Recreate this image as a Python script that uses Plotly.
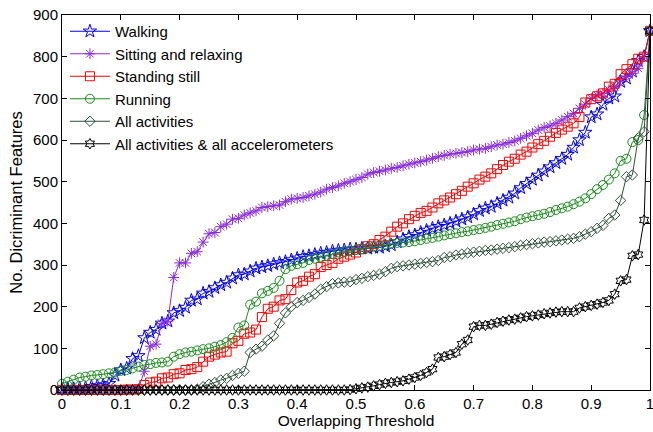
import plotly.graph_objects as go

x = [round(i * 0.01, 2) for i in range(101)]

walking = [2, 2, 3, 4, 5, 8, 10, 12, 15, 35,
           48, 52, 75, 82, 125, 138, 145, 160, 165, 185,
           190, 198, 215, 218, 232, 236, 245, 252, 258, 268,
           276, 278, 285, 292, 295, 298, 302, 305, 308, 312,
           316, 320, 322, 325, 328, 330, 333, 335, 336, 338,
           338, 340, 340, 342, 342, 345, 348, 355, 362, 368,
           372, 378, 383, 388, 392, 396, 400, 405, 410, 415,
           422, 430, 436, 440, 448, 455, 462, 472, 485, 495,
           505, 515, 525, 535, 545, 555, 565, 582, 600, 618,
           655, 662, 685, 700, 705, 740, 748, 765, 790, 800,
           862]

sitting = [0, 0, 0, 0, 0, 0, 0, 0, 0, 0,
           0, 1, 1, 3, 45, 105, 110, 160, 165, 270,
           305, 305, 328, 332, 355, 375, 378, 392, 398, 410,
           412, 420, 425, 430, 438, 440, 442, 444, 452, 458,
           460, 462, 466, 470, 475, 482, 486, 490, 496, 500,
           505, 510, 518, 522, 525, 528, 532, 534, 538, 542,
           545, 548, 552, 556, 560, 563, 566, 568, 570, 572,
           576, 578, 580, 584, 588, 590, 594, 598, 604, 610,
           616, 624, 630, 634, 640, 648, 656, 664, 676, 686,
           700, 708, 712, 720, 728, 742, 752, 760, 772, 800,
           862]

standing = [0, 0, 0, 0, 0, 0, 0, 0, 0, 0,
            0, 1, 1, 2, 12, 18, 20, 28, 30, 38,
            40, 48, 50, 55, 68, 80, 85, 90, 92, 112,
            118, 135, 138, 145, 175, 195, 200, 215, 218, 240,
            258, 262, 272, 278, 295, 300, 305, 315, 320, 325,
            330, 338, 345, 350, 360, 368, 380, 392, 400, 410,
            418, 425, 430, 438, 448, 455, 462, 470, 478, 488,
            496, 505, 512, 520, 530, 540, 548, 555, 565, 572,
            582, 590, 598, 608, 617, 625, 632, 640, 655, 690,
            698, 705, 712, 728, 735, 758, 770, 782, 795, 800,
            862]

running = [15, 20, 25, 30, 32, 35, 36, 38, 40, 42,
           46, 48, 52, 56, 60, 62, 65, 66, 68, 80,
           86, 90, 92, 95, 98, 100, 104, 108, 115, 125,
           150, 155, 205, 212, 232, 238, 245, 262, 290, 298,
           302, 305, 312, 315, 318, 322, 326, 330, 332, 334,
           336, 338, 341, 344, 346, 349, 351, 353, 354, 355,
           357, 360, 363, 365, 368, 371, 374, 376, 379, 381,
           384, 386, 389, 392, 396, 399, 402, 405, 410, 414,
           417, 420, 423, 427, 432, 436, 440, 446, 452, 460,
           470, 482, 492, 505, 520, 550, 555, 595, 600, 660,
           862]

all_act = [0, 0, 0, 0, 0, 0, 0, 0, 0, 0,
           0, 0, 0, 0, 0, 0, 0, 0, 0, 0,
           0, 0, 0, 2, 8, 14, 18, 24, 28, 35,
           40, 45, 90, 98, 105, 120, 130, 160, 185, 200,
           210, 215, 222, 230, 242, 248, 255, 257, 259, 260,
           265, 268, 272, 275, 278, 284, 292, 296, 298, 300,
           302, 304, 306, 308, 311, 318, 320, 324, 326, 329,
           331, 333, 335, 336, 338, 340, 342, 344, 347, 349,
           351, 353, 355, 356, 358, 360, 362, 364, 368, 374,
           380, 388, 395, 412, 420, 455, 512, 516, 605, 620,
           862]

all_acc = [0, 0, 0, 0, 0, 0, 0, 0, 0, 0,
           0, 0, 0, 0, 0, 0, 0, 0, 0, 0,
           0, 0, 0, 0, 0, 0, 0, 0, 0, 0,
           0, 0, 0, 0, 0, 0, 0, 0, 0, 0,
           0, 0, 0, 0, 0, 0, 0, 0, 0, 1,
           3, 5, 7, 10, 13, 16, 18, 20, 22, 26,
           30, 35, 42, 50, 78, 80, 85, 90, 110, 120,
           152, 155, 155, 158, 162, 165, 168, 170, 173, 176,
           178, 180, 183, 185, 187, 188, 188, 188, 197, 200,
           203, 206, 210, 215, 230, 262, 265, 322, 325, 408,
           862]

names = ["Walking", "Sitting and relaxing", "Standing still", "Running",
         "All activities", "All activities & all accelerometers"]
series = [walking, sitting, standing, running, all_act, all_acc]
colors = ["#0000FF", "#8A2BE2", "#FF0000", "#1A8C1A", "#2E4F3A", "#000000"]
symbols = ["star-open", "asterisk-open", "square-open", "circle-open",
           "diamond-open", "hexagram-open"]
sizes = [10, 9, 9, 9, 8, 8]

fig = go.Figure()
for n, s, c, sym, sz in zip(names, series, colors, symbols, sizes):
    fig.add_trace(go.Scatter(
        x=x, y=s, name=n, mode="lines+markers",
        line=dict(color=c, width=1),
        marker=dict(symbol=sym, size=sz, color=c, line=dict(color=c, width=1)),
        cliponaxis=False,
    ))

font = "Liberation Sans, Arial, Helvetica, sans-serif"
fig.update_layout(
    width=653, height=432,
    margin=dict(l=62, r=3, t=15, b=42, autoexpand=False),
    plot_bgcolor="white", paper_bgcolor="white",
    font=dict(family=font, size=15, color="black"),
    showlegend=True,
    legend=dict(x=0.005, y=1.0, xanchor="left", yanchor="top",
                bgcolor="rgba(255,255,255,0)", borderwidth=0,
                font=dict(size=15), tracegroupgap=0, itemwidth=40),
    xaxis=dict(range=[0, 1], dtick=0.1, tick0=0, showgrid=False, zeroline=False,
               showline=True, linecolor="black", linewidth=1, mirror="ticks",
               ticks="inside", ticklen=5, tickcolor="black", automargin=False,
               ticklabeloverflow="allow",
               title=dict(text="Overlapping Threshold", standoff=4, font=dict(size=15.5)),
               tickfont=dict(size=15)),
    yaxis=dict(range=[0, 900], dtick=100, tick0=0, showgrid=False, zeroline=False,
               showline=True, linecolor="black", linewidth=1, mirror="ticks",
               ticks="inside", ticklen=5, tickcolor="black", automargin=False,
               ticklabeloverflow="allow",
               title=dict(text="No. Dicriminant Features", standoff=6, font=dict(size=16.5)),
               tickfont=dict(size=15)),
)

fig.write_html(
    "out.html",
    config={"displayModeBar": False},
    post_script="document.body.style.margin='0px';document.body.style.overflow='hidden';",
)
